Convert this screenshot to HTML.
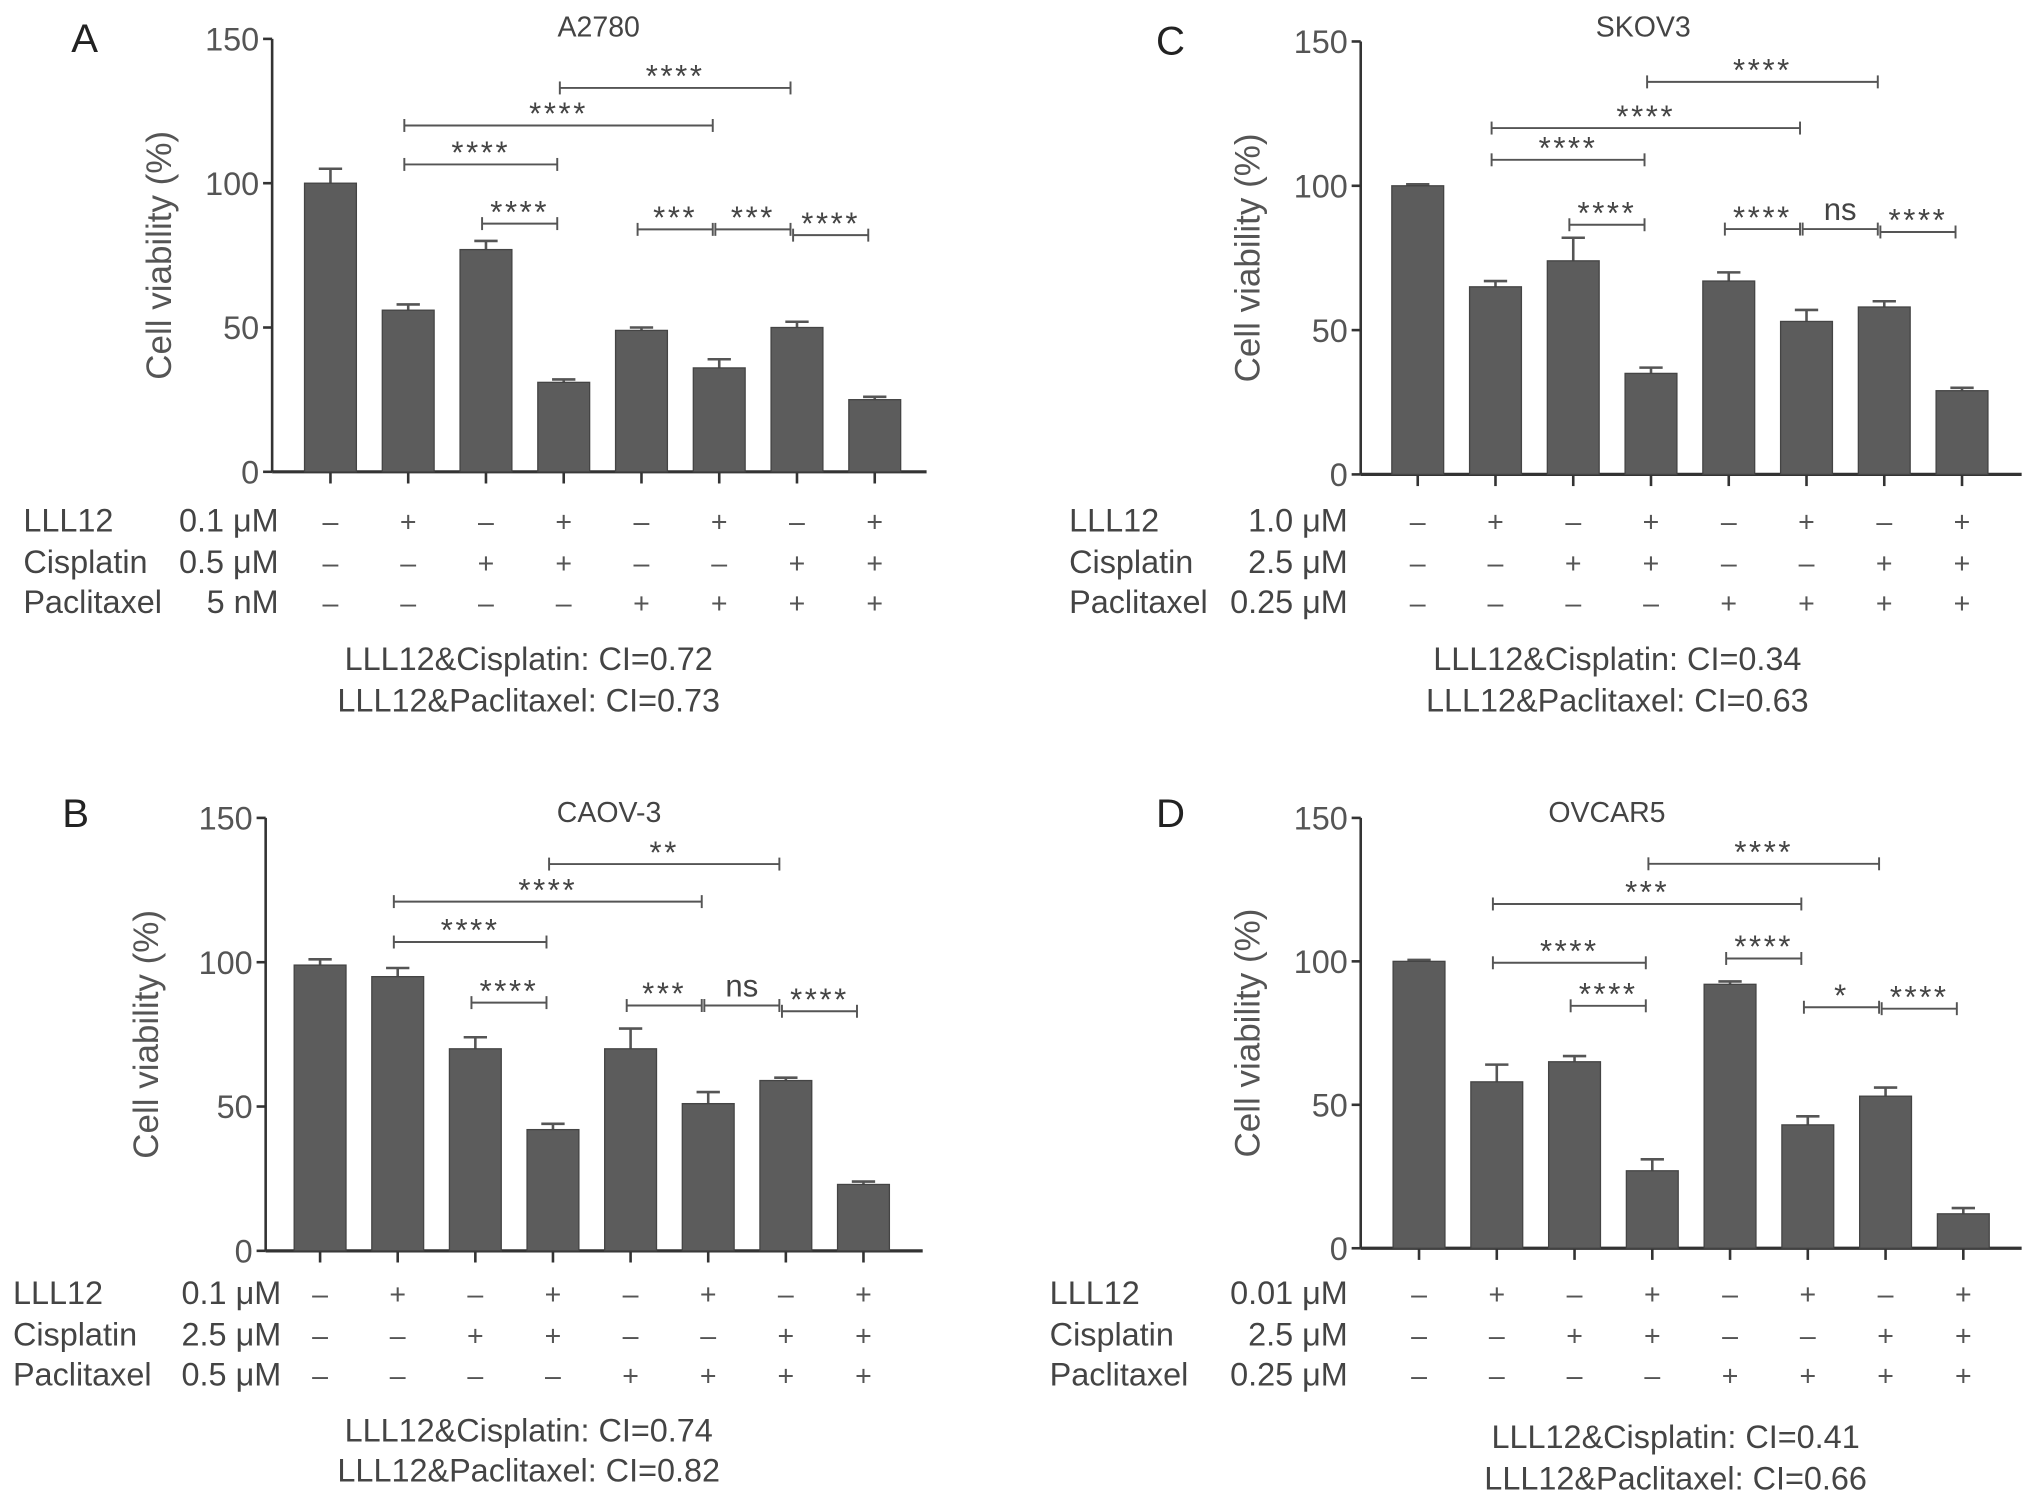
<!DOCTYPE html>
<html><head><meta charset="utf-8"><style>
html,body{margin:0;padding:0;background:#fff;}
svg{display:block;font-family:"Liberation Sans",sans-serif;}
</style></head><body>
<svg id="fig" width="2032" height="1501" viewBox="0 0 1568 1158" preserveAspectRatio="none" xmlns="http://www.w3.org/2000/svg"></svg>
<script>
const NS="http://www.w3.org/2000/svg";
const svg=document.getElementById('fig');
const yTicks=[0,50,100,150];
const rowNames=["LLL12","Cisplatin","Paclitaxel"];
const lllSigns=["–","+","–","+","–","+","–","+"];
const cisSigns=["–","–","+","+","–","–","+","+"];
const pacSigns=["–","–","–","–","+","+","+","+"];
// Panel A
const valsA=[100,56,77,31,49,36,50,25];
const errA=[105,58,80,32,50,39,52,26];
const brA=[[3,6,133,"****"],[1,5,120,"****"],[1,3,106.5,"****"],[2,3,86,"****"],[4,5,84,"***"],[5,6,84,"***"],[6,7,82,"****"]];
// Panel B
const valsB=[99,95,70,42,70,51,59,23];
const errB=[101,98,74,44,77,55,60,24];
const brB=[[3,6,134,"**"],[1,5,121,"****"],[1,3,107,"****"],[2,3,86,"****"],[4,5,85,"***"],[5,6,85,"ns"],[6,7,83,"****"]];
// Panel C
const valsC=[100,65,74,35,67,53,58,29];
const errC=[100.5,67,82,37,70,57,60,30];
const brC=[[3,6,136,"****"],[1,5,120,"****"],[1,3,109,"****"],[2,3,86.5,"****"],[4,5,85,"****"],[5,6,85,"ns"],[6,7,84,"****"]];
// Panel D
const valsD=[100,58,65,27,92,43,53,12];
const errD=[100.5,64,67,31,93,46,56,14];
const brD=[[3,6,134,"****"],[1,5,120,"***"],[1,3,99.5,"****"],[4,5,101,"****"],[2,3,84.5,"****"],[5,6,84,"*"],[6,7,83.5,"****"]];

function el(tag,attrs,parent,txt){const e=document.createElementNS(NS,tag);for(const k in attrs)e.setAttribute(k,attrs[k]);if(txt!==undefined)e.textContent=txt;(parent||svg).appendChild(e);return e;}

function panel(p){
  const g=el('g',{});
  
  
  const sc=(p.zero-p.top)/150;
  const Y=v=>p.zero-v*sc;
  const X=i=>p.x0+i*p.step;
  let t=el('text',{x:p.lx,y:p.ly,'font-size':31,fill:'#222'},g,p.letter);
   
  t=el('text',{x:p.tx,y:p.ty,'font-size':22,fill:'#444','text-anchor':'middle'},g,p.title);
   
  t=el('text',{x:0,y:0,'font-size':27,fill:'#555','text-anchor':'middle',transform:`translate(${p.ytx},${(p.top+p.zero)/2}) rotate(-90)`},g,"Cell viability (%)");
   
  let a=el('line',{x1:p.ax,y1:p.top,x2:p.ax,y2:p.zero,stroke:'#333','stroke-width':2},g);
   
  a=el('line',{x1:p.ax,y1:p.zero,x2:p.axEnd,y2:p.zero,stroke:'#333','stroke-width':2.5},g);
   
  yTicks.forEach(v=>{
    el('line',{x1:p.ax-7,y1:Y(v),x2:p.ax,y2:Y(v),stroke:'#333','stroke-width':2},g);
    const tl=el('text',{x:p.ax-10,y:Y(v)+9,'font-size':25,fill:'#555','text-anchor':'end'},g,String(v));
     
  });
  p.vals.forEach((v,i)=>{
    const cx=X(i),w=40;
    el('line',{x1:cx,y1:p.zero,x2:cx,y2:p.zero+9,stroke:'#333','stroke-width':2},g);
    el('line',{x1:cx,y1:Y(v),x2:cx,y2:Y(p.err[i]),stroke:'#555','stroke-width':2},g);
    el('line',{x1:cx-9,y1:Y(p.err[i]),x2:cx+9,y2:Y(p.err[i]),stroke:'#555','stroke-width':2},g);
    const b=el('rect',{x:cx-w/2,y:Y(v),width:w,height:p.zero-Y(v),fill:'#5c5c5c',stroke:'#444','stroke-width':1},g);
     
  });
  p.br.forEach(bk=>{
    const y=Y(bk[2]);
    const xa=X(bk[0])-3,xb=X(bk[1])-5;
    el('line',{x1:xa,y1:y,x2:xb,y2:y,stroke:'#555','stroke-width':1.5},g);
    el('line',{x1:xa,y1:y-5,x2:xa,y2:y+5,stroke:'#555','stroke-width':1.5},g);
    el('line',{x1:xb,y1:y-5,x2:xb,y2:y+5,stroke:'#555','stroke-width':1.5},g);
    const ns=bk[3]==="ns";
    const s=el('text',{x:(xa+xb)/2,y:ns?y-7:y-1,'font-size':ns?24:24,fill:'#444','text-anchor':'middle','letter-spacing':ns?0:2},g,bk[3]);
     
  });
  const signs=[lllSigns,cisSigns,pacSigns];
  rowNames.forEach((n,r)=>{
    const y=p.rows[r]+9;
    let l=el('text',{x:p.rlx,y:y,'font-size':25,fill:'#444'},g,n);
     
    l=el('text',{x:p.crx,y:y,'font-size':25,fill:'#444','text-anchor':'end'},g,p.conc[r]);
     
    signs[r].forEach((s,i)=>{
      const q=el('text',{x:X(i),y:y,'font-size':22,fill:'#555','text-anchor':'middle'},g,s);
       
    });
  });
  p.ci.forEach((c,k)=>{
    const q=el('text',{x:p.cix,y:p.ciy[k]+9,'font-size':25,fill:'#444','text-anchor':'middle'},g,c);
     
  });
}
panel({id:'a2780',letter:'A',lx:55,ly:40,title:'A2780',tx:462,ty:28,ytx:132,ax:210,axEnd:715,top:30,zero:364,x0:255,step:60,vals:valsA,err:errA,br:brA,rows:[401,433,464],rlx:18,crx:215,conc:['0.1 μM','0.5 μM','5 nM'],ci:['LLL12&Cisplatin: CI=0.72','LLL12&Paclitaxel: CI=0.73'],cix:408,ciy:[508,540]});
panel({id:'caov3',letter:'B',lx:48,ly:638,title:'CAOV-3',tx:470,ty:634,ytx:122,ax:205,axEnd:712,top:631,zero:965,x0:247,step:59.9,vals:valsB,err:errB,br:brB,rows:[997,1029,1060],rlx:10,crx:217,conc:['0.1 μM','2.5 μM','0.5 μM'],ci:['LLL12&Cisplatin: CI=0.74','LLL12&Paclitaxel: CI=0.82'],cix:408,ciy:[1103,1134]});
panel({id:'skov3',letter:'C',lx:892,ly:42,title:'SKOV3',tx:1268,ty:28,ytx:972,ax:1050,axEnd:1560,top:32,zero:366,x0:1094,step:60,vals:valsC,err:errC,br:brC,rows:[401,433,464],rlx:825,crx:1040,conc:['1.0 μM','2.5 μM','0.25 μM'],ci:['LLL12&Cisplatin: CI=0.34','LLL12&Paclitaxel: CI=0.63'],cix:1248,ciy:[508,540]});
panel({id:'ovcar5',letter:'D',lx:892,ly:638,title:'OVCAR5',tx:1240,ty:634,ytx:972,ax:1050,axEnd:1560,top:631,zero:963,x0:1095,step:60,vals:valsD,err:errD,br:brD,rows:[997,1029,1060],rlx:810,crx:1040,conc:['0.01 μM','2.5 μM','0.25 μM'],ci:['LLL12&Cisplatin: CI=0.41','LLL12&Paclitaxel: CI=0.66'],cix:1293,ciy:[1108,1140]});
</script>
</body></html>
